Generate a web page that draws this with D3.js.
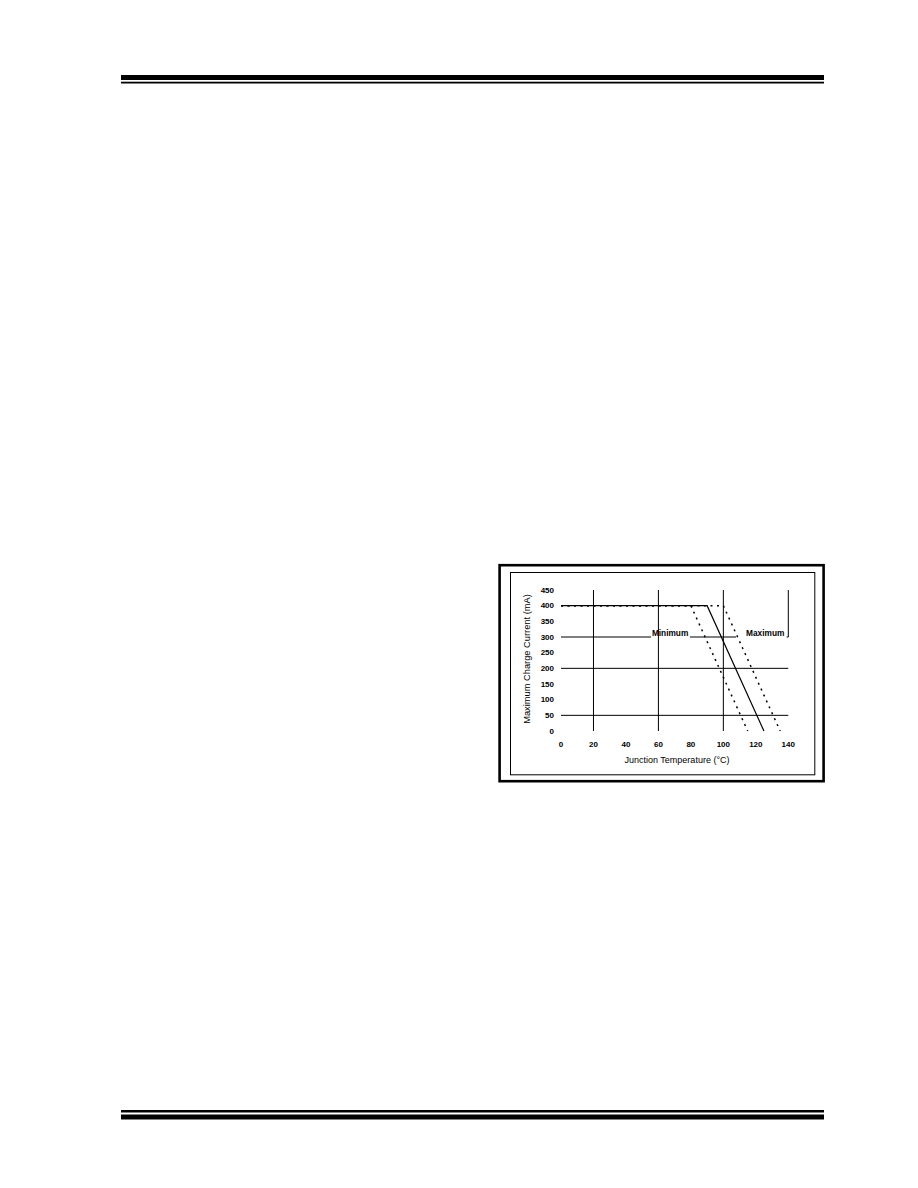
<!DOCTYPE html>
<html>
<head>
<meta charset="utf-8">
<script src="https://cdn.jsdelivr.net/npm/d3@7"></script>
<style>
  html, body { margin: 0; padding: 0; background: #fff; }
  svg { display: block; }
  text { font-family: "Liberation Sans", Arial, sans-serif; fill: #000; }
</style>
</head>
<body>
<svg id="page" width="918" height="1188"></svg>
<script>
// ---- data ----
const xTicks = [0, 20, 40, 60, 80, 100, 120, 140];
const yTicks = [0, 50, 100, 150, 200, 250, 300, 350, 400, 450];
const typicalSeries = [[0, 400], [90, 400], [125, 0]];
const minimumSeries = [[0, 400], [80, 400], [115, 0]];
const maximumSeries = [[0, 400], [100, 400], [135, 0]];
const vGrid = [20, 60, 100];
const hGrid = [50, 200];
const seriesLabels = [
  { text: "Minimum", x: 67.2, gap: [55.5, 79.4] },
  { text: "Maximum", x: 125.8, gap: [107.8, 139.0] }
];
const xTitle = "Junction Temperature (°C)";
const yTitle = "Maximum Charge Current (mA)";

const svg = d3.select("#page");

// page rules
svg.append("rect").attr("x", 121).attr("y", 75).attr("width", 703).attr("height", 5).attr("fill", "#000");
svg.append("rect").attr("x", 121).attr("y", 81.7).attr("width", 703).attr("height", 1.8).attr("fill", "#000");
svg.append("rect").attr("x", 121).attr("y", 1110).attr("width", 703).attr("height", 2.5).attr("fill", "#000");
svg.append("rect").attr("x", 121).attr("y", 1114.5).attr("width", 703).attr("height", 5).attr("fill", "#000");

// frames
svg.append("rect").attr("x", 499.6).attr("y", 565.2).attr("width", 324).attr("height", 216)
  .attr("fill", "none").attr("stroke", "#000").attr("stroke-width", 2.6);
svg.append("rect").attr("x", 510.5).attr("y", 572.5).attr("width", 304.3).attr("height", 202.3)
  .attr("fill", "none").attr("stroke", "#000").attr("stroke-width", 1);

// scales
const x = d3.scaleLinear().domain([0, 140]).range([561, 788.3]);
const y = d3.scaleLinear().domain([0, 450]).range([731, 590]);

const g = svg.append("g");

// vertical gridlines
g.selectAll(".vg").data(vGrid).join("line")
  .attr("x1", d => x(d)).attr("x2", d => x(d))
  .attr("y1", y(450)).attr("y2", y(0))
  .attr("stroke", "#000").attr("stroke-width", 1);
g.append("line").attr("x1", x(140)).attr("x2", x(140)).attr("y1", y(450)).attr("y2", y(300))
  .attr("stroke", "#000").attr("stroke-width", 1);

// horizontal gridlines
g.selectAll(".hg").data(hGrid).join("line")
  .attr("x1", x(0)).attr("x2", x(140))
  .attr("y1", d => y(d)).attr("y2", d => y(d))
  .attr("stroke", "#000").attr("stroke-width", 1);
// 300 line broken by labels
const segs300 = [[0, seriesLabels[0].gap[0]], [seriesLabels[0].gap[1], seriesLabels[1].gap[0]], [seriesLabels[1].gap[1], 140]];
g.selectAll(".h300").data(segs300).join("line")
  .attr("x1", d => x(d[0])).attr("x2", d => x(d[1]))
  .attr("y1", y(300)).attr("y2", y(300))
  .attr("stroke", "#000").attr("stroke-width", 1);

// series labels
g.selectAll(".sl").data(seriesLabels).join("text")
  .attr("x", d => x(d.x)).attr("y", y(300) - 1)
  .attr("text-anchor", "middle")
  .attr("font-size", "8.3px").attr("font-weight", "bold")
  .text(d => d.text);

// lines
const line = d3.line().x(d => x(d[0])).y(d => y(d[1]));
g.append("path").attr("d", line(typicalSeries)).attr("fill", "none")
  .attr("stroke", "#000").attr("stroke-width", 1.2);
g.append("path").attr("d", line(minimumSeries)).attr("fill", "none")
  .attr("stroke", "#000").attr("stroke-width", 1.5).attr("stroke-dasharray", "2,4.5");
g.append("path").attr("d", line(maximumSeries)).attr("fill", "none")
  .attr("stroke", "#000").attr("stroke-width", 1.5).attr("stroke-dasharray", "2,4.5");

// y tick labels
g.selectAll(".yt").data(yTicks).join("text")
  .attr("x", 554).attr("y", d => y(d)).attr("dy", "0.35em")
  .attr("text-anchor", "end").attr("font-size", "8px").attr("font-weight", "bold")
  .text(d => d);

// x tick labels
g.selectAll(".xt").data(xTicks).join("text")
  .attr("x", d => x(d)).attr("y", 744).attr("dy", "0.35em")
  .attr("text-anchor", "middle").attr("font-size", "8px").attr("font-weight", "bold")
  .text(d => d);

// axis titles
g.append("text").attr("x", 677).attr("y", 760).attr("dy", "0.35em")
  .attr("text-anchor", "middle").attr("font-size", "9px").text(xTitle);
g.append("text").attr("transform", "translate(527,659) rotate(-90)").attr("dy", "0.35em")
  .attr("text-anchor", "middle").attr("font-size", "9.3px").text(yTitle);
</script>
</body>
</html>
